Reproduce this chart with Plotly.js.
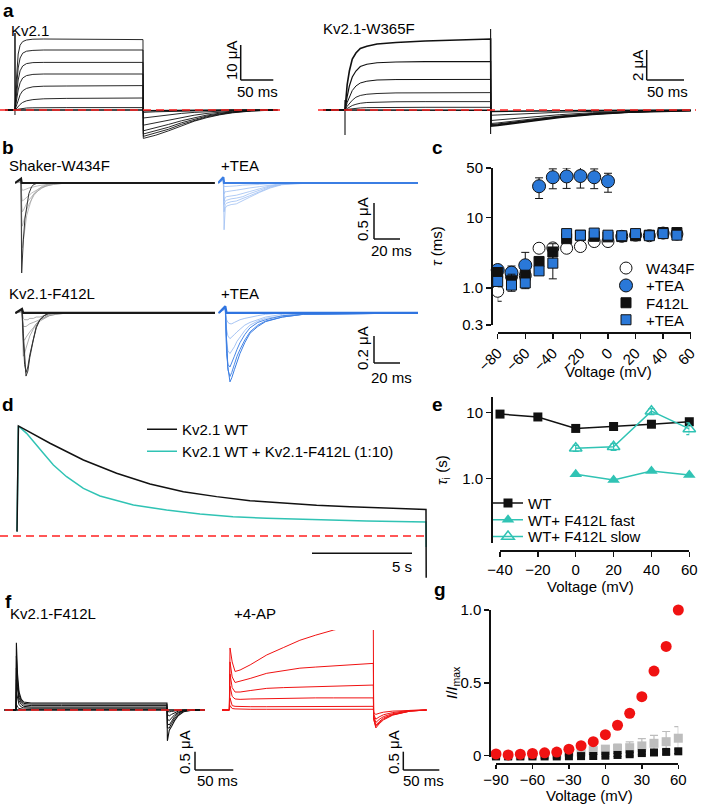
<!DOCTYPE html>
<html><head><meta charset="utf-8">
<script src="https://cdn.plot.ly/plotly-3.0.1.min.js"></script>
<style>html,body{margin:0;padding:0;background:#fff}#chart{width:704px;height:805px}</style>
</head><body><div id="chart"></div>
<script>
// ================= DATA =================
// a – Kv2.1 current traces (time ms, current µA)
const aWtTime = [-15, 0, 1.5, 3, 5, 8, 12, 18, 28, 45, 80, 200, 200.5, 220, 240, 260, 280, 300, 320, 340, 370, 410];
const aWtCurrents = [
  [0, 0, 6, 10.5, 14, 16.2, 17.1, 17.5, 17.7, 17.75, 17.75, 17.6, -7.1, -6.3, -5.2, -3.9, -2.8, -1.9, -1.2, -0.7, -0.25, 0],
  [0, 0, 4, 7.5, 10.5, 13, 14.2, 14.7, 14.9, 15, 15, 15, -6.6, -5.8, -4.8, -3.6, -2.6, -1.7, -1.1, -0.6, -0.2, 0],
  [0, 0, 2.5, 5, 7.5, 9.8, 11, 11.6, 11.85, 11.9, 11.9, 11.9, -6.0, -5.2, -4.3, -3.2, -2.3, -1.5, -0.95, -0.5, -0.2, 0],
  [0, 0, 1.5, 3, 5, 6.8, 8, 8.6, 8.9, 9, 9, 9, -5.2, -4.5, -3.6, -2.7, -1.9, -1.25, -0.8, -0.45, -0.15, 0],
  [0, 0, 0.7, 1.5, 2.6, 3.8, 4.8, 5.4, 5.8, 5.95, 6, 6.1, -3.8, -3.2, -2.5, -1.9, -1.3, -0.85, -0.55, -0.3, -0.1, 0],
  [0, 0, 0.2, 0.5, 0.9, 1.4, 1.9, 2.3, 2.6, 2.8, 2.9, 3.0, -2.0, -1.6, -1.2, -0.85, -0.6, -0.4, -0.25, -0.15, -0.05, 0],
  [0, 0, 0.05, 0.1, 0.2, 0.3, 0.4, 0.5, 0.55, 0.6, 0.6, 0.6, -0.6, -0.45, -0.35, -0.25, -0.15, -0.1, -0.05, 0, 0, 0],
  [0, 0, 0, 0, 0, 0, 0, 0, 0, 0, 0, 0, -0.2, -0.15, -0.1, -0.05, 0, 0, 0, 0, 0, 0]
];
const aWtCapTime = [0, 0, 0.3];
const aWtCap = [-1.25, 19.25, 0];

// a – Kv2.1-W365F
const aMutTime = [-30, 0, 3, 6, 10, 15, 21, 30, 44, 70, 110, 200, 200.5, 210, 250, 295, 340, 390, 435, 475];
const aMutCurrents = [
  [0, 0, 1.7, 2.6, 3.4, 3.8, 4.1, 4.25, 4.4, 4.5, 4.6, 4.73, -1.07, -1.03, -0.78, -0.49, -0.29, -0.15, -0.09, -0.05],
  [0, 0, 0.9, 1.6, 2.2, 2.6, 2.9, 3.05, 3.15, 3.2, 3.22, 3.22, -1.02, -0.98, -0.74, -0.46, -0.27, -0.14, -0.08, -0.05],
  [0, 0, 0.5, 0.9, 1.3, 1.6, 1.8, 1.92, 2.0, 2.03, 2.04, 2.04, -0.97, -0.93, -0.7, -0.43, -0.25, -0.13, -0.07, -0.04],
  [0, 0, 0.25, 0.45, 0.65, 0.85, 0.97, 1.05, 1.1, 1.14, 1.15, 1.16, -0.9, -0.86, -0.64, -0.4, -0.23, -0.12, -0.06, -0.04],
  [0, 0, 0.1, 0.2, 0.3, 0.38, 0.45, 0.5, 0.53, 0.55, 0.56, 0.56, -0.7, -0.66, -0.5, -0.31, -0.18, -0.09, -0.05, -0.03],
  [0, 0, 0.03, 0.06, 0.09, 0.12, 0.14, 0.16, 0.17, 0.18, 0.18, 0.18, -0.35, -0.33, -0.24, -0.15, -0.09, -0.05, -0.03, -0.02],
  [0, 0, 0, 0, 0, 0, 0, 0, 0, 0, 0, -0.02, -0.1, -0.09, -0.07, -0.05, -0.03, -0.02, -0.01, 0]
];
const aMutCapStartTime = [0, 0, 0.3];
const aMutCapStart = [-1.67, 0.67, 0];
const aMutCapEndTime = [200, 200];
const aMutCapEnd = [5.4, -1.6];

// b – Shaker-W434F (time ms, current µA)
const bShTime = [-4.6, 0, 0.5, 1, 1.8, 3, 4.4, 6, 8.2, 10, 13, 16, 20, 25, 35, 149];
const bShCurrents = [
  [0, 0.05, -0.7, -0.9, -0.8, -0.6, -0.45, -0.35, -0.22, -0.15, -0.09, -0.05, -0.02, 0, 0, 0],
  [0, 0.03, -0.45, -0.6, -0.55, -0.45, -0.37, -0.3, -0.22, -0.17, -0.11, -0.07, -0.03, -0.01, 0, 0],
  [0, 0.02, -0.3, -0.4, -0.38, -0.32, -0.28, -0.24, -0.19, -0.15, -0.11, -0.07, -0.04, -0.02, 0, 0],
  [0, 0.02, -0.18, -0.25, -0.24, -0.22, -0.2, -0.17, -0.14, -0.12, -0.09, -0.06, -0.04, -0.02, 0, 0],
  [0, 0.01, -0.07, -0.1, -0.1, -0.09, -0.08, -0.07, -0.06, -0.05, -0.04, -0.03, -0.02, -0.01, 0, 0],
  [0, 0.05, -1.25, -1.05, -0.79, -0.5, -0.33, -0.15, -0.05, -0.02, 0, 0, 0, 0, 0, 0],
  [0, 0.06, 0, 0, 0, 0, 0, 0, 0, 0, 0, 0, 0, 0, 0, 0]
];
// b – Shaker-W434F + TEA
const bShTeaTime = [-4, 0, 0.6, 1.5, 2.5, 4, 6, 10, 15, 20, 28, 36, 45, 55, 70, 150];
const bShTeaCurrents = [
  [0, 0.08, -0.65, -0.35, -0.32, -0.31, -0.3, -0.29, -0.25, -0.2, -0.13, -0.07, -0.025, -0.01, 0, 0],
  [0, 0.06, -0.4, -0.3, -0.28, -0.27, -0.26, -0.25, -0.22, -0.18, -0.12, -0.06, -0.02, -0.01, 0, 0],
  [0, 0.05, -0.3, -0.25, -0.24, -0.23, -0.22, -0.21, -0.19, -0.15, -0.1, -0.05, -0.02, 0, 0, 0],
  [0, 0.05, -0.25, -0.2, -0.19, -0.19, -0.18, -0.17, -0.15, -0.12, -0.08, -0.04, -0.02, 0, 0, 0],
  [0, 0.04, -0.15, -0.12, -0.12, -0.12, -0.11, -0.1, -0.09, -0.07, -0.05, -0.03, -0.01, 0, 0, 0],
  [0, 0.04, -0.05, -0.05, -0.05, -0.05, -0.04, -0.04, -0.03, -0.03, -0.02, -0.01, 0, 0, 0, 0],
  [0, 0.08, 0, 0, 0, 0, 0, 0, 0, 0, 0, 0, 0, 0, 0, 0]
];
// b – Kv2.1-F412L
const bKvTime = [-5, 0, 1, 2, 3.1, 4.5, 6, 8.7, 11, 13.8, 17, 21, 26, 35, 150];
const bKvCurrents = [
  [0, 0.02, -0.32, -0.3, -0.26, -0.21, -0.17, -0.12, -0.08, -0.05, -0.03, -0.01, 0, 0, 0],
  [0, 0.02, -0.2, -0.2, -0.18, -0.16, -0.14, -0.11, -0.08, -0.06, -0.04, -0.02, -0.01, 0, 0],
  [0, 0.01, -0.1, -0.1, -0.1, -0.09, -0.08, -0.07, -0.06, -0.05, -0.04, -0.02, -0.01, 0, 0],
  [0, 0.01, -0.04, -0.05, -0.05, -0.05, -0.04, -0.04, -0.03, -0.03, -0.02, -0.01, 0, 0, 0],
  [0, 0.03, -0.2, -0.38, -0.44, -0.4, -0.31, -0.19, -0.1, -0.05, -0.02, 0, 0, 0, 0],
  [0, 0.03, -0.15, -0.35, -0.467, -0.43, -0.33, -0.2, -0.11, -0.05, -0.02, 0, 0, 0, 0],
  [0, 0.03, 0, 0, 0, 0, 0, 0, 0, 0, 0, 0, 0, 0, 0]
];
// b – Kv2.1-F412L + TEA
const bKvTeaTime = [-5, 0, 1, 2, 3.6, 5, 7, 9, 11.3, 15, 19, 25, 31, 44, 60, 150];
const bKvTeaCurrents = [
  [0, 0.04, -0.2, -0.28, -0.3, -0.28, -0.25, -0.21, -0.18, -0.13, -0.09, -0.06, -0.04, -0.02, 0, 0],
  [0, 0.03, -0.12, -0.17, -0.19, -0.18, -0.16, -0.14, -0.12, -0.09, -0.07, -0.05, -0.03, -0.01, 0, 0],
  [0, 0.03, -0.05, -0.07, -0.08, -0.08, -0.07, -0.06, -0.05, -0.04, -0.03, -0.02, -0.01, 0, 0, 0],
  [0, 0.04, -0.3, -0.38, -0.4, -0.37, -0.32, -0.27, -0.22, -0.16, -0.11, -0.07, -0.05, -0.02, -0.01, 0],
  [0, 0.05, -0.25, -0.42, -0.47, -0.44, -0.38, -0.32, -0.27, -0.2, -0.14, -0.09, -0.06, -0.03, -0.01, 0],
  [0, 0.05, -0.2, -0.4, -0.51, -0.48, -0.42, -0.36, -0.3, -0.22, -0.15, -0.1, -0.064, -0.03, -0.01, 0],
  [0, 0.05, 0, 0, 0, 0, 0, 0, 0, 0, 0, 0, 0, 0, 0, 0]
];

// c – time constants τ (ms) vs voltage (mV)
const cVoltage = [-80, -70, -60, -50, -40, -30, -20, -10, 0, 10, 20, 30, 40, 50];
const cW434F = [0.9, 1.45, 1.5, 3.66, 3.7, 3.66, 3.87, 4.55, 4.55, 5.4, 5.6, 5.5, 6.0, 5.8];
const cW434FErrPlus = [0.45, 0.35, 0.3, 0.4, 0.5, 0.3, 0.2, 0.3, 0.25, 0.2, 0.2, 0.2, 0.2, 0.2];
const cW434FErrMinus = [0.25, 0.35, 0.3, 0.4, 0.5, 0.3, 0.2, 0.3, 0.25, 0.2, 0.2, 0.2, 0.2, 0.2];
const cVoltageTea = [-80, -70, -60, -50, -40, -30, -20, -10, 0];
const cW434FTea = [1.8, 1.65, 2.1, 27.6, 37, 38, 38.5, 37, 32.5];
const cW434FTeaErrPlus = [0.2, 0.4, 1.1, 8.7, 11.6, 12, 12.5, 11.5, 9.6];
const cW434FTeaErrMinus = [0.2, 0.3, 0.3, 9.1, 11.6, 12.3, 12.5, 11.5, 9.8];
const cF412L = [1.66, 1.27, 1.52, 2.38, 3.24, 5.0, 5.58, 5.4, 5.3, 5.35, 5.5, 5.6, 6.1, 6.1];
const cF412LErr = [0.2, 0.3, 0.2, 0.3, 1.0, 0.4, 0.3, 0.3, 0.3, 0.3, 0.3, 0.3, 0.3, 0.3];
const cF412LTea = [1.24, 1.1, 1.18, 1.75, 2.25, 5.9, 5.6, 6.0, 5.6, 5.5, 5.9, 5.5, 5.9, 5.6];
const cF412LTeaErrPlus = [0.2, 0.2, 0.2, 0.2, 1.0, 0.4, 0.3, 0.3, 0.3, 0.3, 0.3, 0.3, 0.3, 0.3];
const cF412LTeaErrMinus = [0.2, 0.2, 0.2, 0.2, 0.9, 0.4, 0.3, 0.3, 0.3, 0.3, 0.3, 0.3, 0.3, 0.3];

// d – normalized current during a long pulse (time s)
const dTimeWT = [0, 0.07, 1.65, 3.32, 4.98, 6.65, 8.32, 9.98, 11.65, 13.32, 14.98, 16.65, 18.32, 20.45, 20.46];
const dWT = [0.04, 1.0, 0.843, 0.691, 0.57, 0.473, 0.403, 0.358, 0.321, 0.297, 0.279, 0.267, 0.255, 0.242, -0.38];
const dTimeMix = [0, 0.07, 0.48, 0.82, 1.32, 1.82, 2.48, 3.32, 4.15, 5.82, 7.48, 9.15, 10.8, 12.48, 14.15, 15.8, 17.48, 20.45, 20.46];
const dMix = [0.04, 1.0, 0.933, 0.857, 0.752, 0.645, 0.539, 0.433, 0.364, 0.282, 0.236, 0.2, 0.176, 0.161, 0.152, 0.142, 0.136, 0.127, -0.1];

// e – inactivation time constants τi (s)
const eVoltageWT = [-40, -20, 0, 20, 40, 60];
const eWT = [9.4, 8.5, 5.7, 6.1, 6.6, 7.2];
const eVoltageMix = [0, 20, 40, 60];
const eFast = [1.15, 0.94, 1.29, 1.12];
const eSlow = [2.85, 3.0, 10.4, 5.6];
const eSlowErrPlus = [0.3, 0.35, 1.0, 1.3];
const eSlowErrMinus = [0.3, 0.35, 1.2, 1.0];

// f – Kv2.1-F412L traces (time ms, current µA)
const fKvTime = [-15, 0, 0.5, 2, 4, 7, 10, 20, 60, 120, 200, 200.5, 203, 206, 210, 215, 222, 235, 250];
const fKvCurrents = [
  [0, 0, 1.83, 0.98, 0.49, 0.29, 0.22, 0.19, 0.19, 0.19, 0.19, -0.84, -0.55, -0.45, -0.29, -0.15, -0.05, 0, 0],
  [0, 0, 1.47, 0.82, 0.41, 0.25, 0.18, 0.16, 0.16, 0.16, 0.16, -0.49, -0.49, -0.37, -0.23, -0.11, -0.03, 0, 0],
  [0, 0, 1.14, 0.65, 0.33, 0.2, 0.14, 0.12, 0.12, 0.12, 0.12, -0.37, -0.41, -0.31, -0.18, -0.08, -0.02, 0, 0],
  [0, 0, 0.82, 0.49, 0.25, 0.15, 0.1, 0.08, 0.08, 0.08, 0.08, -0.25, -0.29, -0.22, -0.13, -0.06, -0.02, 0, 0],
  [0, 0, 0.49, 0.29, 0.15, 0.08, 0.06, 0.05, 0.05, 0.05, 0.05, -0.12, -0.16, -0.12, -0.07, -0.03, -0.01, 0, 0],
  [0, 0, 0.16, 0.08, 0.04, 0.02, 0.02, 0.02, 0.02, 0.02, 0.02, -0.04, -0.05, -0.04, -0.02, -0.01, 0, 0, 0]
];
// f – +4-AP
const fApTime = [-10, 0, 1, 4, 8, 15, 29, 52, 75, 98, 120, 145, 170, 200, 200.5, 203.5, 208, 214, 227, 251, 274];
const fApCurrents = [
  [0, 0, 1.69, 1.31, 1.05, 1.09, 1.23, 1.5, 1.7, 1.9, 2.04, 2.18, 2.29, 2.38, -0.25, -0.49, -0.38, -0.27, -0.14, -0.03, 0],
  [0, 0, 1.31, 0.9, 0.75, 0.78, 0.86, 1.0, 1.08, 1.14, 1.17, 1.2, 1.23, 1.27, -0.25, -0.45, -0.35, -0.25, -0.13, -0.03, 0],
  [0, 0, 0.98, 0.61, 0.49, 0.49, 0.53, 0.59, 0.61, 0.62, 0.63, 0.64, 0.65, 0.68, -0.2, -0.41, -0.32, -0.22, -0.12, -0.03, 0],
  [0, 0, 0.65, 0.37, 0.3, 0.29, 0.3, 0.31, 0.32, 0.32, 0.33, 0.33, 0.33, 0.33, -0.16, -0.34, -0.26, -0.18, -0.1, -0.02, 0],
  [0, 0, 0.33, 0.12, 0.1, 0.09, 0.09, 0.09, 0.09, 0.09, 0.1, 0.1, 0.1, 0.1, -0.12, -0.25, -0.19, -0.13, -0.07, -0.01, 0],
  [0, 0, 0.12, 0.04, 0.03, 0.02, 0.02, 0.02, 0.02, 0.02, 0.02, 0.02, 0.02, 0.02, -0.07, -0.12, -0.09, -0.06, -0.03, -0.01, 0]
];

// g – normalized current I/Imax vs voltage
const gVoltage = [-90, -80, -70, -60, -50, -40, -30, -20, -10, 0, 10, 20, 30, 40, 50, 60];
const gRed = [0.012, 0.005, 0.01, 0.015, 0.02, 0.025, 0.045, 0.069, 0.096, 0.144, 0.209, 0.291, 0.405, 0.581, 0.75, 1.0];
const gRedErr = [0.008, 0.008, 0.008, 0.008, 0.008, 0.01, 0.01, 0.01, 0.01, 0.015, 0.015, 0.02, 0.02, 0.02, 0.01, 0.005];
const gGray = [0.005, 0.003, 0.003, 0.005, 0.008, 0.01, 0.025, 0.025, 0.035, 0.045, 0.05, 0.055, 0.067, 0.085, 0.096, 0.12];
const gGrayErr = [0.008, 0.008, 0.008, 0.008, 0.008, 0.01, 0.01, 0.012, 0.015, 0.02, 0.03, 0.04, 0.05, 0.055, 0.07, 0.08];
const gBlack = [-0.005, -0.005, -0.005, -0.005, -0.005, -0.005, -0.004, -0.003, -0.002, 0.0, 0.005, 0.01, 0.018, 0.022, 0.026, 0.03];
const gBlackErr = [0.008, 0.008, 0.008, 0.008, 0.008, 0.01, 0.01, 0.02, 0.01, 0.01, 0.01, 0.012, 0.012, 0.012, 0.015, 0.015];

// ================= LAYOUT HELPERS =================
const W = 704, H = 805;
const FONT = 'Liberation Sans, Arial, sans-serif';
const BLUE = '#2a78d8', TEAL = '#30c3b4', RED = '#f01212';
const px = v => v / W;
const py = v => 1 - v / H;
const hdom = (a, b) => [px(a), px(b)];
const vdom = (a, b) => [py(b), py(a)];

const traces = [];
function traceSet(time, currents, xa, ya, colors, widths) {
  currents.forEach((cur, i) => traces.push({
    type: 'scatter', mode: 'lines', x: time, y: cur, xaxis: xa, yaxis: ya,
    line: {color: colors[i], width: widths[i]}, showlegend: false, hoverinfo: 'skip'
  }));
}
function simpleLine(x, y, xa, ya, color, width) {
  traces.push({type:'scatter', mode:'lines', x, y, xaxis:xa, yaxis:ya, line:{color, width}, showlegend:false, hoverinfo:'skip'});
}

// a
traceSet(aWtTime, aWtCurrents, 'x', 'y', Array(8).fill('#111'), [0.9,0.9,0.9,0.9,0.9,0.9,0.9,1.6]);
simpleLine(aWtCapTime, aWtCap, 'x', 'y', '#111', 1);
traceSet(aMutTime, aMutCurrents, 'x2', 'y2', Array(7).fill('#111'), [1.6,1.2,1,0.9,0.9,0.9,1.6]);
simpleLine(aMutCapStartTime, aMutCapStart, 'x2', 'y2', '#111', 1.1);
simpleLine(aMutCapEndTime, aMutCapEnd, 'x2', 'y2', '#111', 1.1);
// b
traceSet(bShTime, bShCurrents, 'x3', 'y3', ['#a0a0a0','#a0a0a0','#a0a0a0','#a0a0a0','#a0a0a0','#333','#1a1a1a'], [0.7,0.7,0.7,0.7,0.7,1,2.2]);
traceSet(bShTeaTime, bShTeaCurrents, 'x4', 'y4', ['#9ebff2','#9ebff2','#9ebff2','#9ebff2','#9ebff2','#9ebff2','#3b7ee3'], [0.8,0.8,0.8,0.8,0.8,0.8,2.2]);
traceSet(bKvTime, bKvCurrents, 'x5', 'y5', ['#8a8a8a','#8a8a8a','#8a8a8a','#8a8a8a','#333','#333','#1a1a1a'], [0.7,0.7,0.7,0.7,1,1,2.2]);
traceSet(bKvTeaTime, bKvTeaCurrents, 'x6', 'y6', ['#8fb5f0','#8fb5f0','#8fb5f0','#4a88e6','#4a88e6','#3b7ee3','#2f74e0'], [0.8,0.8,0.8,1,1,1,2.2]);
// c
const cErr = (plus, minus) => ({type:'data', symmetric:false, array:plus, arrayminus:minus, color:'#111', thickness:1, width:4});
traces.push({type:'scatter', mode:'markers', name:'W434F', x:cVoltage, y:cW434F, xaxis:'x7', yaxis:'y7', cliponaxis:false,
  marker:{symbol:'circle', size:12, color:'#fff', line:{color:'#111', width:1}}, error_y:cErr(cW434FErrPlus, cW434FErrMinus), legend:'legend'});
traces.push({type:'scatter', mode:'markers', name:'+TEA', x:cVoltageTea, y:cW434FTea, xaxis:'x7', yaxis:'y7', cliponaxis:false,
  marker:{symbol:'circle', size:13, color:BLUE, line:{color:'#111', width:1}}, error_y:cErr(cW434FTeaErrPlus, cW434FTeaErrMinus), legend:'legend2'});
traces.push({type:'scatter', mode:'markers', name:'F412L', x:cVoltage, y:cF412L, xaxis:'x7', yaxis:'y7', cliponaxis:false,
  marker:{symbol:'square', size:10, color:'#111', line:{color:'#111', width:1}}, error_y:cErr(cF412LErr, cF412LErr), legend:'legend3'});
traces.push({type:'scatter', mode:'markers', name:'+TEA', x:cVoltage, y:cF412LTea, xaxis:'x7', yaxis:'y7', cliponaxis:false,
  marker:{symbol:'square', size:10, color:BLUE, line:{color:'#111', width:1}}, error_y:cErr(cF412LTeaErrPlus, cF412LTeaErrMinus), legend:'legend4'});
// d
traces.push({type:'scatter', mode:'lines', name:'Kv2.1 WT + Kv2.1-F412L (1:10)', x:dTimeMix, y:dMix, xaxis:'x8', yaxis:'y8',
  line:{color:TEAL, width:1.5}, legend:'legend6'});
traces.push({type:'scatter', mode:'lines', name:'Kv2.1 WT', x:dTimeWT, y:dWT, xaxis:'x8', yaxis:'y8',
  line:{color:'#111', width:1.5}, legend:'legend5'});
// e
traces.push({type:'scatter', mode:'lines+markers', name:'WT', x:eVoltageWT, y:eWT, xaxis:'x9', yaxis:'y9', cliponaxis:false,
  line:{color:'#111', width:1.5}, marker:{symbol:'square', size:9, color:'#111'}, legend:'legend7'});
traces.push({type:'scatter', mode:'lines+markers', name:'WT+ F412L fast', x:eVoltageMix, y:eFast, xaxis:'x9', yaxis:'y9', cliponaxis:false,
  line:{color:TEAL, width:1.5}, marker:{symbol:'triangle-up', size:11, color:TEAL}, legend:'legend8'});
traces.push({type:'scatter', mode:'lines+markers', name:'WT+ F412L slow', x:eVoltageMix, y:eSlow, xaxis:'x9', yaxis:'y9', cliponaxis:false,
  line:{color:TEAL, width:1.5}, marker:{symbol:'triangle-up-open', size:11, color:TEAL, line:{width:1.5}},
  error_y:{type:'data', symmetric:false, array:eSlowErrPlus, arrayminus:eSlowErrMinus, color:TEAL, thickness:1.2, width:3}, legend:'legend9'});
// f
traceSet(fKvTime, fKvCurrents, 'x10', 'y10', Array(6).fill('#111'), [1.1,1,1,1,1,1]);
simpleLine([fKvTime[0], fKvTime[fKvTime.length-1]], [0, 0], 'x10', 'y10', '#111', 1.5);
traceSet(fApTime, fApCurrents, 'x11', 'y11', Array(6).fill(RED), [1,1,1,1,1,1]);
// g
traces.push({type:'scatter', mode:'markers', x:gVoltage, y:gGray, xaxis:'x12', yaxis:'y12', cliponaxis:false, showlegend:false,
  marker:{symbol:'square', size:9, color:'#bdbdbd'}, error_y:{type:'data', array:gGrayErr, color:'#bdbdbd', thickness:1.2, width:4}});
traces.push({type:'scatter', mode:'markers', x:gVoltage, y:gBlack, xaxis:'x12', yaxis:'y12', cliponaxis:false, showlegend:false,
  marker:{symbol:'square', size:8, color:'#111'}, error_y:{type:'data', array:gBlackErr, color:'#111', thickness:1, width:4}});
traces.push({type:'scatter', mode:'markers', x:gVoltage, y:gRed, xaxis:'x12', yaxis:'y12', cliponaxis:false, showlegend:false,
  marker:{symbol:'circle', size:11, color:RED}, error_y:{type:'data', array:gRedErr, color:RED, thickness:1.2, width:4}});

// ================= AXES =================
const hidden = (dom, range, anchor) => ({domain: dom, range: range, visible: false, fixedrange: true, anchor: anchor});
const tickFont = {family: FONT, size: 15, color: '#000'};
const shownAxis = (extra) => Object.assign({
  showgrid:false, zeroline:false, showline:true, linecolor:'#111', linewidth:1.5,
  ticks:'outside', ticklen:5, tickwidth:1.5, tickcolor:'#111', tickfont:tickFont, fixedrange:true
}, extra);

const layout = {
  width: W, height: H, margin: {l:0, r:0, t:0, b:0}, paper_bgcolor:'#fff', plot_bgcolor:'rgba(0,0,0,0)',
  font: {family: FONT, size: 15, color: '#000'},
  xaxis: hidden(hdom(0, 285), [-23.4, 421.9], 'y'),
  yaxis: hidden(vdom(25, 145), [-8.75, 21.25], 'x'),
  xaxis2: hidden(hdom(315, 700), [-41.2, 487.6], 'y2'),
  yaxis2: hidden(vdom(25, 145), [-2.333, 5.667], 'x2'),
  xaxis3: hidden(hdom(15, 215), [-4.62, 149.2], 'y3'),
  yaxis3: hidden(vdom(150, 290), [-1.486, 0.458], 'x3'),
  xaxis4: hidden(hdom(218, 418), [-4.08, 149.8], 'y4'),
  yaxis4: hidden(vdom(150, 290), [-1.486, 0.458], 'x4'),
  xaxis5: hidden(hdom(15, 215), [-5.38, 148.5], 'y5'),
  yaxis5: hidden(vdom(290, 390), [-0.570, 0.170], 'x5'),
  xaxis6: hidden(hdom(218, 418), [-5.6, 148.2], 'y6'),
  yaxis6: hidden(vdom(290, 390), [-0.570, 0.170], 'x6'),
  xaxis7: shownAxis({domain: hdom(497.7, 690.7), range: [-80, 60], anchor:'free', position: py(332),
    tickvals: [-80,-60,-40,-20,0,20,40,60], tickangle: -45}),
  yaxis7: shownAxis({domain: vdom(168, 325), type:'log', range: [Math.log10(0.3), Math.log10(50)], anchor:'free', position: px(491),
    tickvals: [0.3, 1, 10, 50], ticktext: ['0.3', '1.0', '10', '50']}),
  xaxis8: hidden(hdom(0, 440), [-0.85, 21.15], 'y8'),
  yaxis8: hidden(vdom(410, 585), [-0.445, 1.145], 'x8'),
  xaxis9: shownAxis({domain: hdom(500, 689.3), range: [-40, 60], anchor:'free', position: py(550),
    tickvals: [-40,-20,0,20,40,60]}),
  yaxis9: shownAxis({domain: vdom(397, 543), type:'log', range: [-0.98, 1.232], anchor:'free', position: px(491),
    tickvals: [1, 10], ticktext: ['1.0', '10']}),
  xaxis10: hidden(hdom(0, 210), [-21.2, 256.95], 'y10'),
  yaxis10: hidden(vdom(630, 750), [-1.09, 2.18], 'x10'),
  xaxis11: hidden(hdom(215, 440), [-19.86, 292.6], 'y11'),
  yaxis11: hidden(vdom(630, 750), [-1.09, 2.18], 'x11'),
  xaxis12: shownAxis({domain: hdom(496, 678.3), range: [-90, 60], anchor:'free', position: py(763.3),
    tickvals: [-90,-60,-30,0,30,60], ticklen: 4, ticklabelstandoff: -2}),
  yaxis12: shownAxis({domain: vdom(610, 757), range: [-0.009, 1.0], anchor:'free', position: px(489.3),
    tickvals: [0, 0.5, 1], ticktext: ['0', '0.5', '1.0']}),
  shapes: [],
  annotations: []
};

// legends (one entry each, positioned on the reference rows)
const leg = (xp, yp) => ({x: px(xp), y: py(yp), xanchor:'left', yanchor:'middle', bgcolor:'rgba(0,0,0,0)',
  borderwidth:0, font:{family:FONT, size:15, color:'#000'}, itemclick:false, itemdoubleclick:false});
layout.legend = leg(606, 268.3);
layout.legend2 = leg(606, 285.7);
layout.legend3 = leg(606, 303);
layout.legend4 = leg(606, 320);
layout.legend5 = leg(142, 429.5);
layout.legend6 = leg(142, 451.5);
layout.legend7 = leg(488, 503.3);
layout.legend8 = leg(488, 520);
layout.legend9 = leg(488, 536.7);

// scale bars
const bar = (x0, y0, x1, y1) => layout.shapes.push({type:'line', xref:'paper', yref:'paper',
  x0:px(x0), y0:py(y0), x1:px(x1), y1:py(y1), line:{color:'#111', width:1.5}});
bar(240.7, 45, 240.7, 80); bar(240.7, 80, 273.3, 80);
bar(646.7, 50, 646.7, 80); bar(646.7, 80, 684, 80);
bar(374, 203, 374, 239); bar(374, 239, 400, 239);
bar(374, 336, 374, 363); bar(374, 363, 400, 363);
bar(312, 553.3, 412, 553.3);
bar(195, 751.7, 195, 770); bar(195, 770, 233.3, 770);
bar(403.3, 751.7, 403.3, 770); bar(403.3, 770, 439.3, 770);

// zero-current reference lines (red dashed)
const zero = (yref, x0, x1) => layout.shapes.push({type:'line', xref:'paper', yref:yref,
  x0:px(x0), x1:px(x1), y0:0, y1:0, line:{color:'#ff2020', width:1.6, dash:'8px,5px'}});
zero('y', 0, 280); zero('y2', 318, 696); zero('y8', 0, 427); zero('y10', 5, 205);

// text
const note = (text, x, y, o = {}) => layout.annotations.push(Object.assign({
  text, x:px(x), y:py(y), xref:'paper', yref:'paper', showarrow:false,
  xanchor:'center', yanchor:'middle', font:{family:FONT, size:15, color:'#000'}
}, o));
const letter = (t, x, y) => note('<b>' + t + '</b>', x, y, {font:{family:FONT, size:19, color:'#000'}});
letter('a', 8, 10); letter('b', 8, 148); letter('c', 437, 148); letter('d', 8, 404);
letter('e', 437, 404); letter('f', 8, 601); letter('g', 440, 589);

const label = (t, x, y) => note(t, x, y, {xanchor:'left'});
label('Kv2.1', 9, 31); label('Kv2.1-W365F', 321, 28);
label('Shaker-W434F', 7, 166); label('+TEA', 219, 166);
label('Kv2.1-F412L', 7, 293); label('+TEA', 219, 293);
label('Kv2.1-F412L', 8, 613); label('+4-AP', 232, 613);

const vtext = (t, x, y) => note(t, x, y, {textangle:-90});
vtext('10 μA', 231, 60); note('50 ms', 257, 91);
vtext('2 μA', 638, 66); note('50 ms', 667, 91);
vtext('0.5 μA', 362, 219); note('20 ms', 392, 251);
vtext('0.2 μA', 362, 348); note('20 ms', 392, 378);
note('5 s', 402, 566);
vtext('0.5 μA', 184, 752); note('50 ms', 217, 780);
vtext('0.5 μA', 393, 752); note('50 ms', 423, 780);

// axis titles
note('Voltage (mV)', 608, 371);
vtext('<i>τ</i> (ms)', 436, 246);
note('Voltage (mV)', 590, 586);
vtext('<i>τ</i><sub>i</sub> (s)', 442, 470);
note('Voltage (mV)', 589, 795);
vtext('<i>I</i>/<i>I</i><sub>max</sub>', 452, 683);

Plotly.newPlot('chart', traces, layout, {staticPlot: true, displayModeBar: false});
</script>
</body></html>
